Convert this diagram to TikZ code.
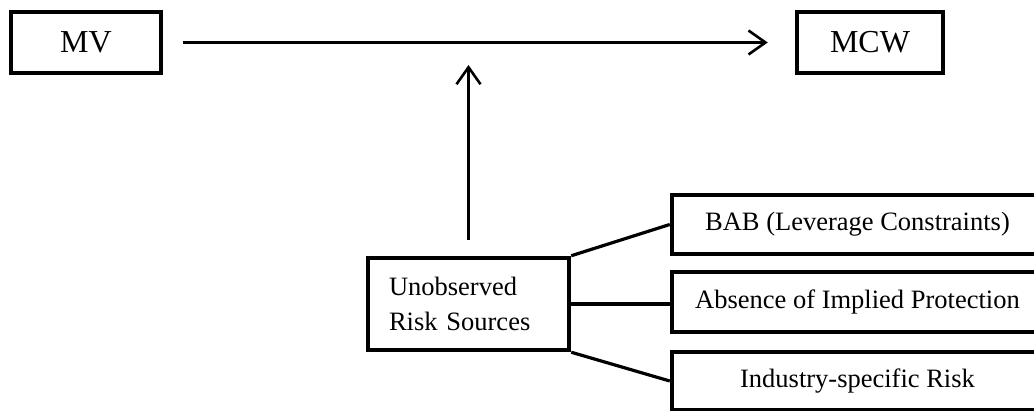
\documentclass[tikz,border=0pt]{standalone}
\usepackage{fontspec}
\setmainfont{Liberation Serif}
\usetikzlibrary{arrows.meta, positioning}

\begin{document}
\begin{tikzpicture}[
  x=1pt, y=-1pt,
  vbox/.style={draw, line width=4.5pt, inner sep=0pt, align=center, font=\fontsize{32}{38}\selectfont},
  rbox/.style={draw, line width=4.5pt, inner sep=0pt, align=center, minimum width=371pt, font=\fontsize{26.5}{35}\selectfont},
  link/.style={line width=3.2pt},
  arr/.style={line width=2.6pt, -{Straight Barb[length=17pt, width=24pt]}}
]
  \useasboundingbox (0,0) rectangle (1034,411);
  \clip (0,0) rectangle (1034,411);

  \node[vbox, minimum width=150pt, minimum height=61pt] (mv) at (86, 42.5) {MV};
  \node[vbox, minimum width=146pt, minimum height=61pt] (mcw) at (870, 42.5) {MCW};

  \node[rbox, align=left, minimum width=0pt, inner xsep=21pt, text width=159pt, minimum height=92pt] (unobs) at (468.5, 304) {Unobserved\\Risk Sources};

  \node[rbox, minimum height=59pt] (bab) at (857.5, 224.5) {BAB (Leverage Constraints)};
  \node[rbox, minimum height=60pt] (absence) at (857.5, 302) {Absence of Implied Protection};
  \node[rbox, minimum height=58pt] (industry) at (857.5, 381) {Industry-specific Risk};

  % Arrows
  \coordinate (join) at (468.5, 44);
  \draw[arr, shorten <=20pt, shorten >=27pt] (mv.east) -- (mcw.west);
  \draw[arr, shorten <=16pt, shorten >=21pt] (unobs.north) -- (join);

  \draw[link] (unobs.north east) -- (bab.west);
  \draw[link] (unobs.east) -- (unobs.east -| absence.west);
  \draw[link] (unobs.south east) -- (industry.west);
\end{tikzpicture}
\end{document}
